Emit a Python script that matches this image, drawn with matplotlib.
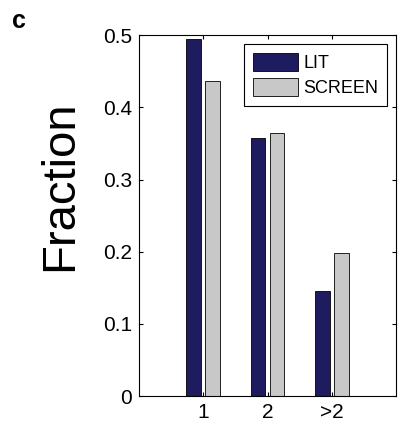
import numpy as np
import matplotlib.pyplot as plt

# values
categories = ['1', '2', '>2']
lit = [0.495, 0.358, 0.145]
screen = [0.436, 0.364, 0.198]
series_names = ['LIT', 'SCREEN']

plt.rcParams['font.family'] = ['Liberation Sans', 'DejaVu Sans']

fig = plt.figure(figsize=(4.03, 4.24), dpi=100)
ax = fig.add_axes([0.345, 0.066, 0.638, 0.851])

x = np.arange(1, len(categories) + 1)
width = 0.23
shift = 0.148
ax.bar(x - shift, lit, width, color='#1f1b5f', edgecolor='black', linewidth=0.6, label=series_names[0])
ax.bar(x + shift, screen, width, color='#c8c8c8', edgecolor='black', linewidth=0.6, label=series_names[1])

ax.set_xlim(0, 4)
ax.set_ylim(0, 0.5)
ax.set_xticks(x)
ax.set_xticklabels(categories)
ax.set_yticks([0, 0.1, 0.2, 0.3, 0.4, 0.5])
ax.set_yticklabels(['0', '0.1', '0.2', '0.3', '0.4', '0.5'])
ax.tick_params(direction='in', length=3, width=0.8, top=True, right=True,
               labelsize=15, pad=5)
for s in ax.spines.values():
    s.set_linewidth(0.8)

# y label sits higher than the axes centre in the original
fig.text(0.149, 0.561, 'Fraction', fontsize=34, rotation=90, ha='center', va='center')

leg = ax.legend(loc='upper right', fontsize=13, handlelength=2.5, handleheight=1.1,
                labelspacing=0.35, handletextpad=0.3, borderpad=0.5,
                borderaxespad=0.5, fancybox=False, framealpha=1)
leg.get_frame().set_edgecolor('black')
leg.get_frame().set_linewidth(0.8)

fig.text(0.03, 0.934, 'c', fontsize=18, fontweight='bold', va='baseline')

fig.savefig('out.png', dpi=100)
